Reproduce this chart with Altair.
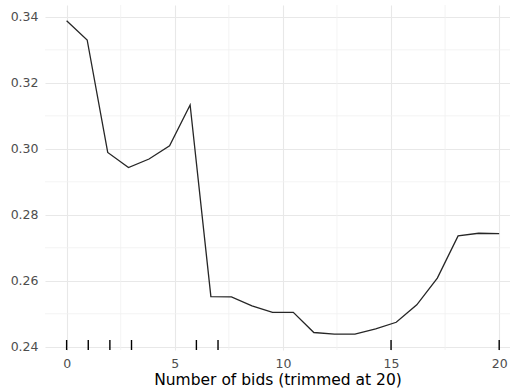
import altair as alt
import pandas as pd

# Partial dependence curve
bids = [0, 0.95, 1.9, 2.86, 3.81, 4.76, 5.71, 6.67, 7.62, 8.57, 9.52, 10.48,
        11.43, 12.38, 13.33, 14.29, 15.24, 16.19, 17.14, 18.1, 19.05, 20]
yhat = [0.3388, 0.3330, 0.2989, 0.2943, 0.2969, 0.3009, 0.3133, 0.2552, 0.2551,
        0.2524, 0.2504, 0.2504, 0.2443, 0.2438, 0.2438, 0.2454, 0.2474, 0.2527,
        0.2608, 0.2736, 0.2744, 0.2743]

# Rug (deciles of the predictor)
rug_x = [0, 1, 2, 3, 6, 7, 15, 20]

# Axis ticks / grid
x_major = [0, 5, 10, 15, 20]
x_minor = [2.5, 7.5, 12.5, 17.5]
y_major = [0.24, 0.26, 0.28, 0.30, 0.32, 0.34]
y_minor = [0.25, 0.27, 0.29, 0.31, 0.33]

X_DOMAIN = [-1, 20.5]
Y_DOMAIN = [0.2390, 0.3436]

FONT = "DejaVu Sans"

line_df = pd.DataFrame({"bids": bids, "yhat": yhat})
rug_df = pd.DataFrame({"bids": rug_x})
xminor_df = pd.DataFrame({"bids": x_minor})
yminor_df = pd.DataFrame({"yhat": y_minor})

xscale = alt.Scale(domain=X_DOMAIN, nice=False, zero=False)
yscale = alt.Scale(domain=Y_DOMAIN, nice=False, zero=False)

x_axis = alt.Axis(
    values=x_major, title="Number of bids (trimmed at 20)", grid=True,
    gridColor="#e8e8e8", gridWidth=1.1, domain=False, ticks=False,
    labelPadding=7, labelFontSize=12.5, labelColor="#4d4d4d", labelFont=FONT,
    titleFont=FONT, titleFontSize=15.5, titleFontWeight="normal",
    titleColor="#000000", titlePadding=3, labelFlush=False,
)
y_axis = alt.Axis(
    values=y_major, title=None, grid=True, format=".2f",
    gridColor="#e8e8e8", gridWidth=1.1, domain=False, ticks=False,
    labelPadding=7, labelFontSize=12.5, labelColor="#4d4d4d", labelFont=FONT,
    labelFlush=False,
)

minor_v = alt.Chart(xminor_df).mark_rule(color="#f0f0f0", strokeWidth=0.8).encode(
    x=alt.X("bids:Q", scale=xscale, axis=x_axis)
)
minor_h = alt.Chart(yminor_df).mark_rule(color="#f0f0f0", strokeWidth=0.8).encode(
    y=alt.Y("yhat:Q", scale=yscale, axis=y_axis)
)

line = alt.Chart(line_df).mark_line(color="#262626", strokeWidth=1.3).encode(
    x=alt.X("bids:Q", scale=xscale, axis=x_axis),
    y=alt.Y("yhat:Q", scale=yscale, axis=y_axis),
)

rug = alt.Chart(rug_df).mark_rule(color="#000000", strokeWidth=1.4).encode(
    x=alt.X("bids:Q", scale=xscale, axis=x_axis),
    y=alt.value(335),
    y2=alt.value(345),
)

chart = alt.layer(minor_v, minor_h, line, rug).properties(
    width=465, height=345,
    autosize=alt.AutoSizeParams(type="none"),
    padding={"left": 45, "top": 5, "right": 0, "bottom": 40},
).configure(background="white").configure_view(stroke=None)

chart.save("out.html", embed_options={"renderer": "svg", "actions": False})
